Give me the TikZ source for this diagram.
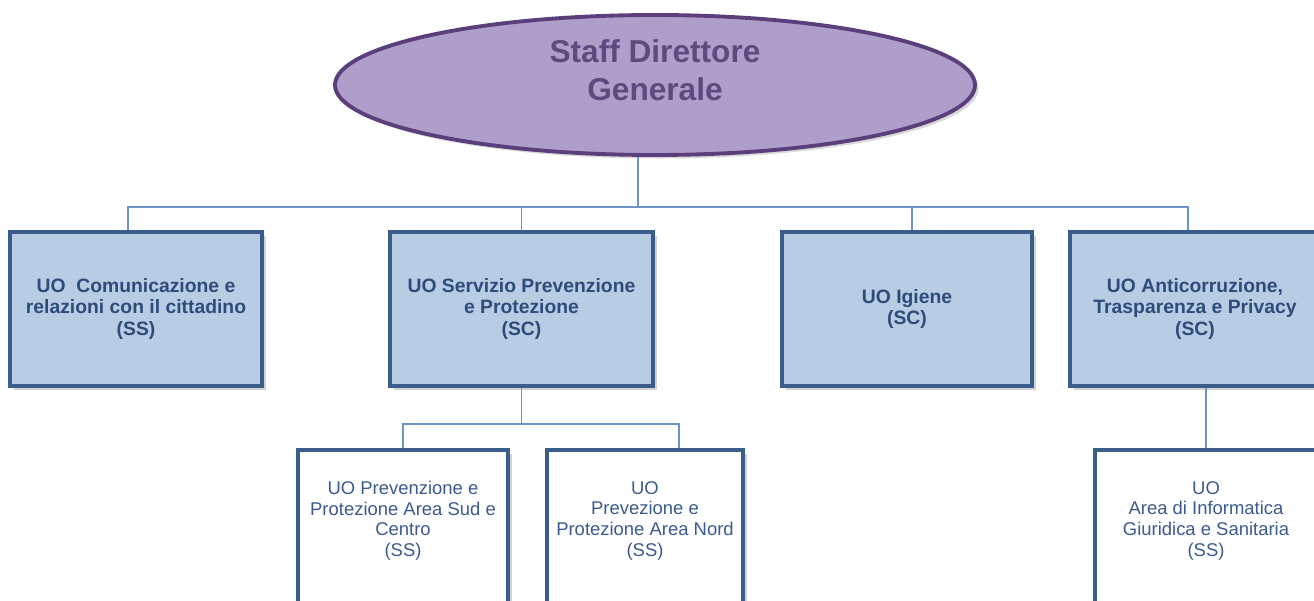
\documentclass[tikz,border=0pt]{standalone}
\usepackage{fontspec}
\setmainfont{Liberation Sans}
\usetikzlibrary{shapes.geometric,shadows}
\definecolor{lila}{HTML}{B09ECA}
\definecolor{lilaedge}{HTML}{5B3F7C}
\definecolor{lilatext}{HTML}{5E4A7E}
\definecolor{boxfill}{HTML}{B8CCE4}
\definecolor{boxedge}{HTML}{3A5D8C}
\definecolor{boxtext}{HTML}{2E4C7A}
\definecolor{subtext}{HTML}{3B5B8E}
\definecolor{linkcol}{HTML}{6B93C4}
\tikzset{
  unit/.style={draw=boxedge,line width=2.2pt,fill=boxfill,minimum height=3.08cm,
    align=center,text=boxtext,font=\fontsize{11}{12.5}\selectfont\bfseries,
    drop shadow={shadow xshift=2pt,shadow yshift=-2pt,opacity=0.35}},
  subunit/.style={draw=boxedge,line width=2.2pt,fill=white,minimum height=3.2cm,
    align=center,text=subtext,font=\fontsize{10.5}{11.8}\selectfont,text depth=0.45cm,
    drop shadow={shadow xshift=2pt,shadow yshift=-2pt,opacity=0.35}},
  link/.style={draw=linkcol,line width=1pt}
}
\begin{document}
\begin{tikzpicture}
\clip (0,0) rectangle (26.28,-12.02);
\fill[white] (0,0) rectangle (26.28,-12.02);
\node[ellipse,draw=lilaedge,line width=2.2pt,fill=lila,minimum width=12.8cm,minimum height=2.8cm,
  inner sep=0pt,text depth=0.6cm,align=center,text=lilatext,font=\fontsize{18}{21.5}\selectfont\bfseries,
  drop shadow={shadow xshift=2pt,shadow yshift=-2pt,opacity=0.3}] (dg) at (13.1,-1.7) {Staff Direttore\\Generale};
\node[unit,minimum width=5.04cm] (b1) at (2.72,-6.18) {UO\ \ Comunicazione e\\relazioni con il cittadino\\(SS)};
\node[unit,minimum width=5.26cm] (b2) at (10.43,-6.18) {UO Servizio Prevenzione\\e Protezione\\(SC)};
\node[unit,minimum width=5.0cm] (b3) at (18.14,-6.18) {UO Igiene\\(SC)};
\node[unit,minimum width=5.0cm] (b4) at (23.9,-6.18) {UO Anticorruzione,\\Trasparenza e Privacy\\(SC)};
\node[subunit,minimum width=4.2cm] (s1) at (8.06,-10.6) {UO Prevenzione e\\Protezione Area Sud e\\Centro\\(SS)};
\node[subunit,minimum width=3.92cm] (s2) at (12.9,-10.6) {UO\\Prevezione e\\Protezione Area Nord\\(SS)};
\node[subunit,minimum width=4.44cm] (s3) at (24.12,-10.6) {UO\\Area di Informatica\\Giuridica e Sanitaria\\(SS)};
\coordinate (bus) at (0,-4.14);
\coordinate (subbus) at (0,-8.48);
\draw[link] ([xshift=-3.4mm]dg.south) -- ([xshift=-3.4mm]dg.south |- bus);
\draw[link] ([xshift=-1.6mm]b1.north) |- ([xshift=-1.4mm]b4.north |- bus) -- ([xshift=-1.4mm]b4.north);
\draw[link] (b2.north) -- (b2.north |- bus);
\draw[link] ([xshift=1mm]b3.north) -- ([xshift=1mm]b3.north |- bus);
\draw[link] (b2.south) -- (b2.south |- subbus);
\draw[link] (s1.north) |- ([xshift=6.8mm]s2.north |- subbus) -- ([xshift=6.8mm]s2.north);
\draw[link] (s3.north) -- (s3.north |- b4.south);
\end{tikzpicture}
\end{document}
